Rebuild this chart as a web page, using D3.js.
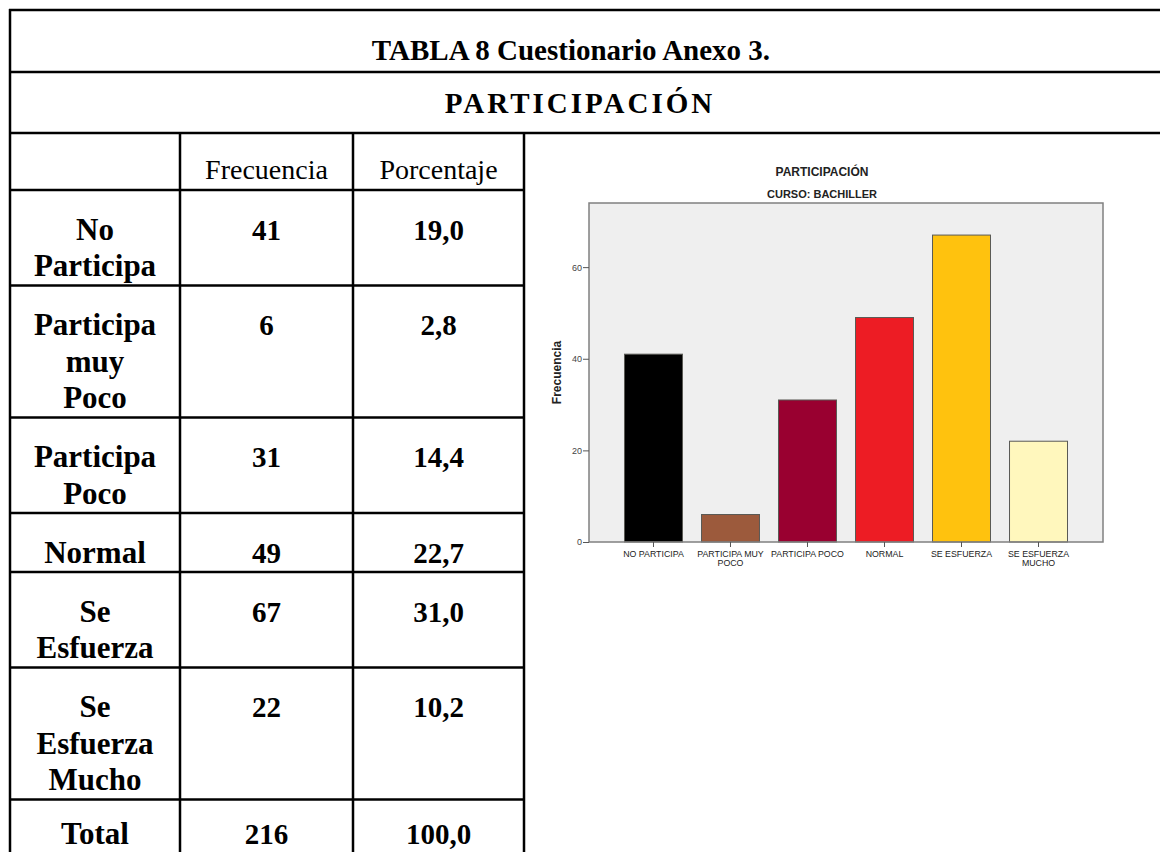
<!DOCTYPE html>
<html>
<head>
<meta charset="utf-8">
<script src="https://cdn.jsdelivr.net/npm/d3@7"></script>
<style>
  body { margin: 0; background: #fff; }
  .serif { font-family: "Liberation Serif", "Times New Roman", serif; fill: #000; }
  .sans { font-family: "Liberation Sans", Arial, sans-serif; }
</style>
</head>
<body>
<svg id="page"></svg>
<script>
// table data
const rowLabels = [["No", "Participa"], ["Participa", "muy", "Poco"], ["Participa", "Poco"],
                   ["Normal"], ["Se", "Esfuerza"], ["Se", "Esfuerza", "Mucho"]];
const frequencies = [41, 6, 31, 49, 67, 22];
const percentages = ["19,0", "2,8", "14,4", "22,7", "31,0", "10,2"];
const totalRow = ["Total", "216", "100,0"];
const headers = ["Frecuencia", "Porcentaje"];

// chart data
const barLabels = [["NO PARTICIPA"], ["PARTICIPA MUY", "POCO"], ["PARTICIPA POCO"],
                   ["NORMAL"], ["SE ESFUERZA"], ["SE ESFUERZA", "MUCHO"]];
const barColors = ["#000000", "#9c5a3c", "#990030", "#ed1c24", "#ffc20e", "#fff7bd"];
const yTicks = [0, 20, 40, 60];

const W = 1160, H = 852;
const svg = d3.select("#page").attr("width", W).attr("height", H);

// ---- table grid ----
const colX = [10, 180, 353, 524];
const lineH = 36.5;
const rowTops = [190];
rowLabels.forEach(l => rowTops.push(rowTops[rowTops.length - 1] + 22.5 + lineH * l.length));

const grid = svg.append("g").attr("stroke", "#000").attr("stroke-width", 2.5);
[10, 72, 133].forEach(y => grid.append("line").attr("x1", 9).attr("x2", W).attr("y1", y).attr("y2", y));
grid.append("line").attr("x1", 10).attr("x2", 10).attr("y1", 9).attr("y2", H);
colX.slice(1).forEach(x => grid.append("line").attr("x1", x).attr("x2", x).attr("y1", 133).attr("y2", H));
rowTops.forEach(y => grid.append("line").attr("x1", 9).attr("x2", 525).attr("y1", y).attr("y2", y));

svg.append("text").attr("class", "serif")
    .attr("x", 571).attr("y", 60)
    .attr("text-anchor", "middle")
    .style("font-size", "29px").style("font-weight", "bold")
    .text("TABLA 8 Cuestionario Anexo 3.");

svg.append("text").attr("class", "serif")
    .attr("x", 580).attr("y", 113)
    .attr("text-anchor", "middle")
    .style("font-size", "29px").style("font-weight", "bold")
    .style("letter-spacing", "3px")
    .text("PARTICIPACIÓN");

headers.forEach((h, i) => {
    svg.append("text").attr("class", "serif")
        .attr("x", (colX[i + 1] + colX[i + 2]) / 2).attr("y", 179)
        .attr("text-anchor", "middle")
        .style("font-size", "28px")
        .text(h);
});

// body rows
const rows = svg.append("g").attr("class", "serif").style("font-weight", "bold");
const allLabels = rowLabels.concat([[totalRow[0]]]);
const allFreq = frequencies.map(String).concat([totalRow[1]]);
const allPct = percentages.concat([totalRow[2]]);

allLabels.forEach((lines, i) => {
    // last row is cut by the page bottom, lift its baseline a little
    const base = rowTops[i] + (i === allLabels.length - 1 ? 44 : 49.5);
    const cx = (colX[0] + colX[1]) / 2;
    const t = rows.append("text")
        .attr("x", cx)
        .attr("text-anchor", "middle")
        .style("font-size", "31px");
    lines.forEach((s, j) => t.append("tspan").attr("x", cx).attr("y", base + j * lineH).text(s));
    rows.append("text")
        .attr("x", (colX[1] + colX[2]) / 2).attr("y", base)
        .attr("text-anchor", "middle").style("font-size", "29px")
        .text(allFreq[i]);
    rows.append("text")
        .attr("x", (colX[2] + colX[3]) / 2).attr("y", base)
        .attr("text-anchor", "middle").style("font-size", "29px")
        .text(allPct[i]);
});

// ---- bar chart ----
const plot = { left: 589, right: 1103, top: 203, bottom: 542 };

const x = d3.scaleBand()
    .domain(d3.range(frequencies.length))
    .range([plot.left, plot.right])
    .paddingInner(0.247)
    .paddingOuter(0.461);

const y = d3.scaleLinear()
    .domain([0, 74])
    .range([plot.bottom, plot.top]);

const chart = svg.append("g").attr("class", "sans");

chart.append("rect")
    .attr("x", plot.left).attr("y", plot.top)
    .attr("width", plot.right - plot.left).attr("height", plot.bottom - plot.top)
    .attr("fill", "#efefef");

chart.selectAll(".bar")
    .data(frequencies)
    .enter().append("rect")
    .attr("class", "bar")
    .attr("x", (d, i) => x(i))
    .attr("y", d => y(d))
    .attr("width", x.bandwidth())
    .attr("height", d => y(0) - y(d))
    .attr("fill", (d, i) => barColors[i])
    .attr("stroke", "#5a5a55")
    .attr("stroke-width", 1);

chart.append("rect")
    .attr("x", plot.left).attr("y", plot.top)
    .attr("width", plot.right - plot.left).attr("height", plot.bottom - plot.top)
    .attr("fill", "none")
    .attr("stroke", "#808080")
    .attr("stroke-width", 1.5);

// y axis
const yAxis = chart.append("g")
    .attr("transform", `translate(${plot.left},0)`)
    .call(d3.axisLeft(y).tickValues(yTicks).tickSize(6).tickPadding(1));
yAxis.select(".domain").remove();
yAxis.selectAll("line").attr("stroke", "#555");
yAxis.selectAll("text").attr("fill", "#444")
    .style("font-family", "'Liberation Sans', Arial, sans-serif").style("font-size", "9px");

// x axis
const xAxis = chart.append("g")
    .attr("transform", `translate(0,${plot.bottom})`)
    .call(d3.axisBottom(x).tickSize(5).tickFormat(""));
xAxis.select(".domain").remove();
xAxis.selectAll("line").attr("stroke", "#555");

barLabels.forEach((lines, i) => {
    const t = chart.append("text")
        .attr("text-anchor", "middle")
        .attr("fill", "#222")
        .style("font-size", "8.8px");
    lines.forEach((s, j) => t.append("tspan")
        .attr("x", x(i) + x.bandwidth() / 2)
        .attr("y", 557 + j * 8.5)
        .text(s));
});

chart.append("text")
    .attr("transform", `translate(561,${(plot.top + plot.bottom) / 2}) rotate(-90)`)
    .attr("text-anchor", "middle")
    .style("font-size", "12px").style("font-weight", "bold")
    .attr("fill", "#222")
    .text("Frecuencia");

chart.append("text")
    .attr("x", 822).attr("y", 176)
    .attr("text-anchor", "middle")
    .style("font-size", "12px").style("font-weight", "bold")
    .attr("fill", "#222")
    .text("PARTICIPACIÓN");

chart.append("text")
    .attr("x", 822).attr("y", 198)
    .attr("text-anchor", "middle")
    .style("font-size", "11px").style("font-weight", "bold")
    .attr("fill", "#222")
    .text("CURSO: BACHILLER");
</script>
</body>
</html>
